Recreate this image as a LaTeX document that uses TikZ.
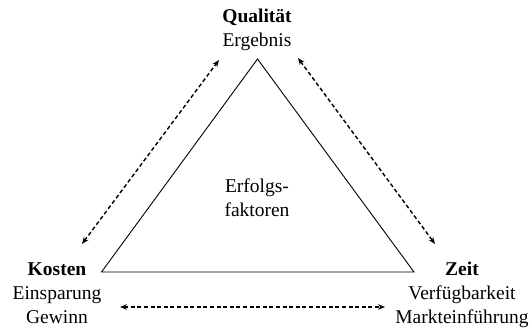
\documentclass[tikz,border=0pt]{standalone}
\usepackage{fontspec}
\setmainfont{Liberation Serif}
\usetikzlibrary{arrows.meta}
\begin{document}
\begin{tikzpicture}[x=1bp,y=-1bp,
  lbl/.style={inner sep=0pt,anchor=base,align=center,font=\fontsize{19.5bp}{23.8bp}\selectfont},
  rel/.style={dashed,dash pattern=on 4bp off 2.6bp,line width=1.4bp,{Stealth[length=7bp,width=5.5bp]}-{Stealth[length=7bp,width=5.5bp]}},
  tri/.style={draw,line width=0.9bp}]
\useasboundingbox (0,0) rectangle (531,329);
% labels
\node[lbl] (q) at (257,46.7) {\textbf{Qualität}\\Ergebnis};
\node[lbl] (k) at (57,323.3) {\textbf{Kosten}\\Einsparung\\Gewinn};
\node[lbl] (z) at (462,323.3) {\textbf{Zeit}\\Verfügbarkeit\\Markteinführung};
\node[lbl] (e) at (257,216) {Erfolgs-\\faktoren};
% triangle
\coordinate (top) at (257.5,59);
\coordinate (bl) at (101.5,272);
\coordinate (br) at (414,272);
\draw[tri] (top) -- (bl) -- (br) -- cycle;
% relation arrows
\coordinate (a1) at (82,244);
\coordinate (a2) at (219,60);
\coordinate (b1) at (298,58);
\coordinate (b2) at (435,244);
\coordinate (c1) at (120,307);
\coordinate (c2) at (385,307);
\draw[rel] (a1) -- (a2);
\draw[rel] (b1) -- (b2);
\draw[rel] (c1) -- (c2);
\end{tikzpicture}
\end{document}
